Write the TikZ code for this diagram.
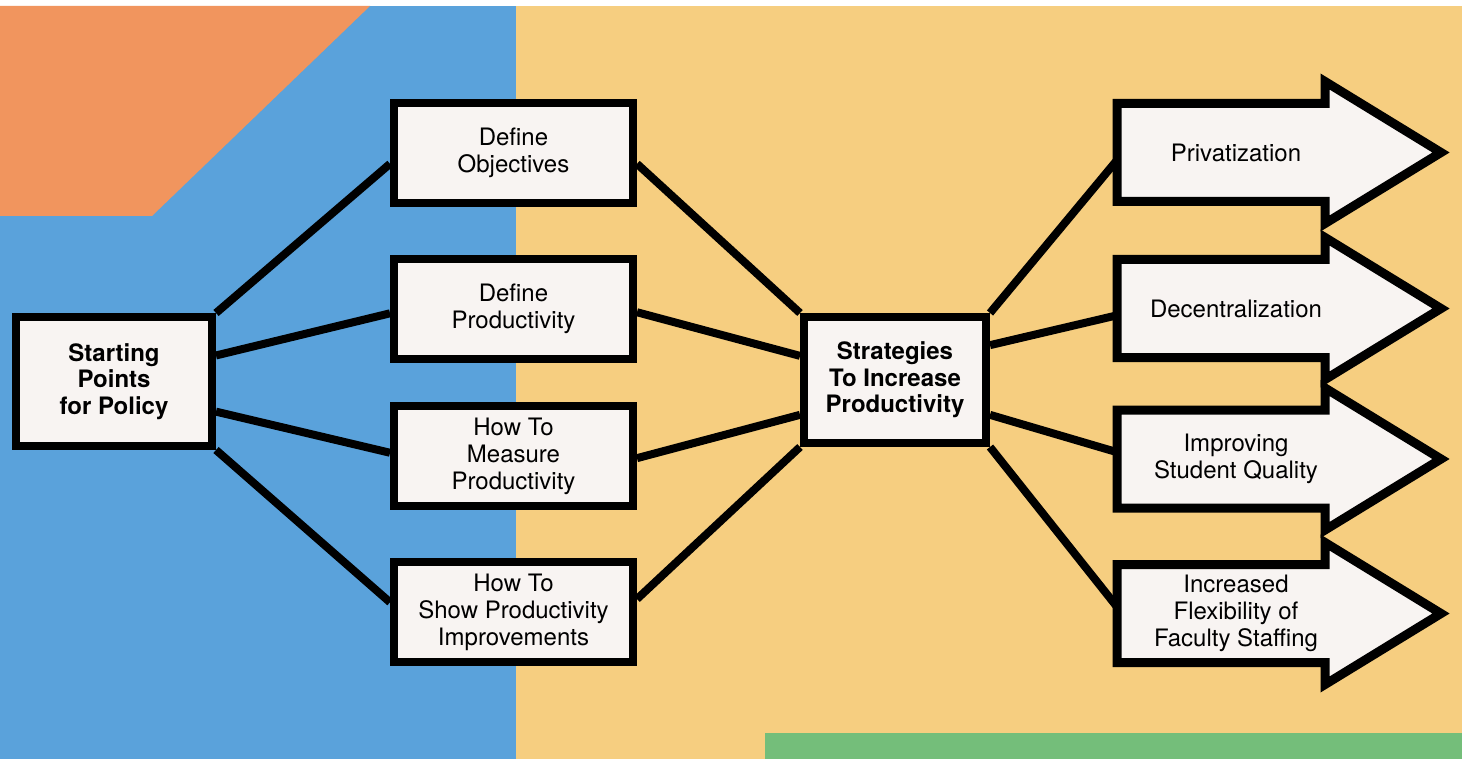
\documentclass[tikz,border=0pt]{standalone}
\usepackage{fontspec}
\setmainfont{TeX Gyre Heros}
\usetikzlibrary{calc}
\pgfdeclarelayer{back}
\pgfdeclarelayer{mid}
\pgfsetlayers{back,mid,main}
\definecolor{bgblue}{HTML}{5AA2DB}
\definecolor{bgyellow}{HTML}{F6CE80}
\definecolor{bgorange}{HTML}{F1955E}
\definecolor{bggreen}{HTML}{74BE7A}
\definecolor{paper}{HTML}{F8F4F2}
\begin{document}
\begin{tikzpicture}[x=1pt,y=-1pt,
  box/.style={draw=black, line width=8pt, fill=paper, inner sep=0pt, align=center,
    font=\fontsize{24}{27}\selectfont},
  boldbox/.style={box, font=\fontsize{24}{26.5}\selectfont\bfseries},
  arrowbox/.style={draw=black, line width=9pt, fill=paper, line join=miter},
  arrowtext/.style={align=center, inner sep=0pt, font=\fontsize{24}{27}\selectfont},
  conn/.style={draw=black, line width=8pt},
]
\useasboundingbox (0,0) rectangle (1462,759);
\begin{pgfonlayer}{back}
  \fill[white] (0,0) rectangle (1462,759);
  \fill[bgblue] (0,6) rectangle (516,759);
  \fill[bgyellow] (516,6) rectangle (1462,759);
  \fill[bgorange] (0,6) -- (370,6) -- (152,216) -- (0,216) -- cycle;
  \fill[bggreen] (765,733) rectangle (1462,759);
\end{pgfonlayer}

% left column
\node[boldbox, minimum width=196pt, minimum height=129pt] (start) at (114,381.5) {Starting\\Points\\for Policy};
\node[box, minimum width=239pt, minimum height=100pt] (b1) at (513.5,153) {Define\\Objectives};
\node[box, minimum width=239pt, minimum height=100pt] (b2) at (513.5,309) {Define\\Productivity};
\node[box, minimum width=239pt, minimum height=100pt] (b3) at (513.5,456) {How To\\Measure\\Productivity};
\node[box, minimum width=239pt, minimum height=100pt] (b4) at (513.5,612) {How To\\Show Productivity\\Improvements};
\node[boldbox, minimum width=182pt, minimum height=126pt] (strat) at (895,380) {Strategies\\To Increase\\Productivity};

% arrows
\foreach \n/\cy/\txt in {1/152.5/{Privatization}, 2/308.5/{Decentralization}, 3/459/{Improving\\Student Quality}, 4/613.5/{Increased\\Flexibility of\\Faculty Staffing}}{
  \draw[arrowbox] (1117,\cy-49) -- (1325,\cy-49) -- (1325,\cy-71) -- (1441,\cy) -- (1325,\cy+71) -- (1325,\cy+49) -- (1117,\cy+49) -- cycle;
  \node[minimum width=208pt, minimum height=98pt, inner sep=0pt] (a\n) at (1221,\cy) {};
  \node[arrowtext] (t\n) at (1236,\cy) {\txt};
}

\begin{pgfonlayer}{mid}
  \draw[conn] (start.north east) -- ($(b1.north west)!0.6!(b1.south west)$);
  \draw[conn] ($(start.north east)!0.31!(start.south east)$) -- ($(b2.north west)!0.54!(b2.south west)$);
  \draw[conn] ($(start.north east)!0.72!(start.south east)$) -- ($(b3.north west)!0.47!(b3.south west)$);
  \draw[conn] (start.south east) -- ($(b4.north west)!0.41!(b4.south west)$);

  \draw[conn] ($(b1.north east)!0.6!(b1.south east)$) -- (strat.north west);
  \draw[conn] ($(b2.north east)!0.53!(b2.south east)$) -- ($(strat.north west)!0.32!(strat.south west)$);
  \draw[conn] ($(b3.north east)!0.52!(b3.south east)$) -- ($(strat.north west)!0.76!(strat.south west)$);
  \draw[conn] ($(b4.north east)!0.38!(b4.south east)$) -- (strat.south west);

  \draw[conn] (strat.north east) -- ($(a1.north west)!0.58!(a1.south west)$);
  \draw[conn] ($(strat.north east)!0.24!(strat.south east)$) -- ($(a2.north west)!0.57!(a2.south west)$);
  \draw[conn] ($(strat.north east)!0.76!(strat.south east)$) -- ($(a3.north west)!0.43!(a3.south west)$);
  \draw[conn] (strat.south east) -- ($(a4.north west)!0.43!(a4.south west)$);
\end{pgfonlayer}
\end{tikzpicture}
\end{document}
